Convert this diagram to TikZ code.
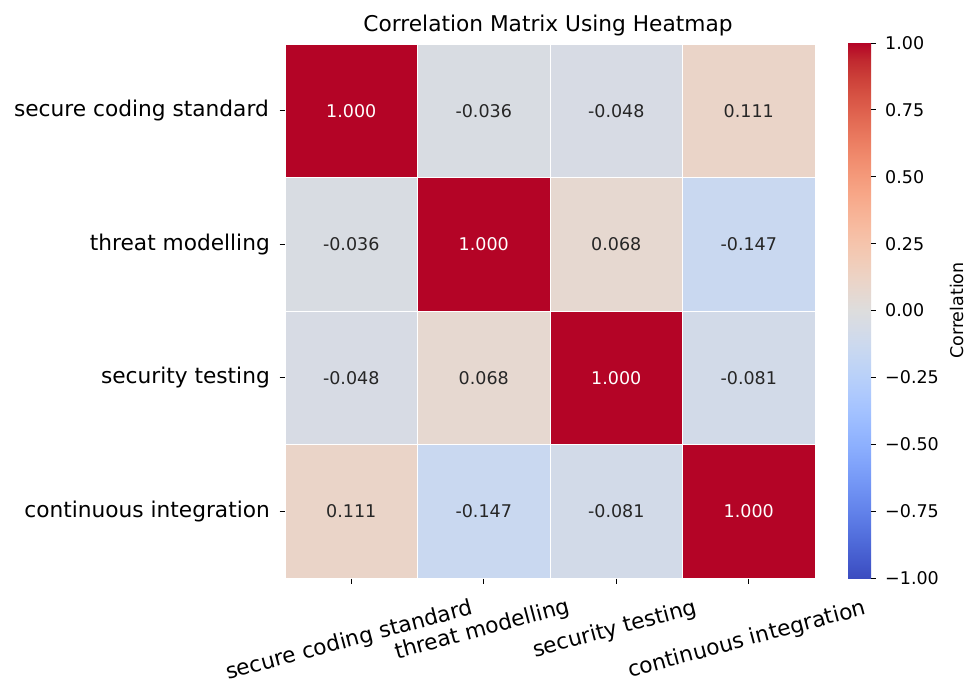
\documentclass[tikz,border=0pt]{standalone}
\usepackage{fontspec}
\setmainfont{DejaVu Sans}
\definecolor{cw0}{RGB}{59,76,192}
\definecolor{cw1}{RGB}{68,90,204}
\definecolor{cw2}{RGB}{77,104,215}
\definecolor{cw3}{RGB}{87,117,225}
\definecolor{cw4}{RGB}{98,130,234}
\definecolor{cw5}{RGB}{108,142,241}
\definecolor{cw6}{RGB}{119,154,247}
\definecolor{cw7}{RGB}{130,165,251}
\definecolor{cw8}{RGB}{141,176,254}
\definecolor{cw9}{RGB}{152,185,255}
\definecolor{cw10}{RGB}{163,194,255}
\definecolor{cw11}{RGB}{174,201,253}
\definecolor{cw12}{RGB}{184,208,249}
\definecolor{cw13}{RGB}{194,213,244}
\definecolor{cw14}{RGB}{204,217,238}
\definecolor{cw15}{RGB}{213,219,230}
\definecolor{cw16}{RGB}{221,221,221}
\definecolor{cw17}{RGB}{229,216,209}
\definecolor{cw18}{RGB}{236,211,197}
\definecolor{cw19}{RGB}{241,204,184}
\definecolor{cw20}{RGB}{245,196,172}
\definecolor{cw21}{RGB}{247,187,160}
\definecolor{cw22}{RGB}{247,177,148}
\definecolor{cw23}{RGB}{247,166,135}
\definecolor{cw24}{RGB}{244,154,123}
\definecolor{cw25}{RGB}{241,141,111}
\definecolor{cw26}{RGB}{236,127,99}
\definecolor{cw27}{RGB}{229,112,88}
\definecolor{cw28}{RGB}{222,96,77}
\definecolor{cw29}{RGB}{213,80,66}
\definecolor{cw30}{RGB}{203,62,56}
\definecolor{cw31}{RGB}{192,40,47}
\definecolor{cw32}{RGB}{180,4,38}
\definecolor{vone}{RGB}{180,4,38}
\definecolor{vA}{RGB}{216,220,226}   % -0.036
\definecolor{vB}{RGB}{215,219,228}   % -0.048
\definecolor{vC}{RGB}{234,212,200}   % 0.111
\definecolor{vD}{RGB}{201,216,240}   % -0.147
\definecolor{vE}{RGB}{230,216,208}   % 0.068
\definecolor{vF}{RGB}{210,218,232}   % -0.081
\definecolor{txtdark}{RGB}{38,38,38}
\pgfdeclareverticalshading{coolwarm}{100bp}{color(0bp)=(cw0); color(25bp)=(cw0);
 color(26.5625bp)=(cw1); color(28.125bp)=(cw2); color(29.6875bp)=(cw3); color(31.25bp)=(cw4);
 color(32.8125bp)=(cw5); color(34.375bp)=(cw6); color(35.9375bp)=(cw7); color(37.5bp)=(cw8);
 color(39.0625bp)=(cw9); color(40.625bp)=(cw10); color(42.1875bp)=(cw11); color(43.75bp)=(cw12);
 color(45.3125bp)=(cw13); color(46.875bp)=(cw14); color(48.4375bp)=(cw15); color(50bp)=(cw16);
 color(51.5625bp)=(cw17); color(53.125bp)=(cw18); color(54.6875bp)=(cw19); color(56.25bp)=(cw20);
 color(57.8125bp)=(cw21); color(59.375bp)=(cw22); color(60.9375bp)=(cw23); color(62.5bp)=(cw24);
 color(64.0625bp)=(cw25); color(65.625bp)=(cw26); color(67.1875bp)=(cw27); color(68.75bp)=(cw28);
 color(70.3125bp)=(cw29); color(71.875bp)=(cw30); color(73.4375bp)=(cw31); color(75bp)=(cw32);
 color(100bp)=(cw32)}
\tikzset{
  cell/.style={rectangle, minimum width=132.5pt, minimum height=133.5pt, inner sep=0pt,
    draw=white, line width=1pt, font=\fontsize{17.5}{20}\selectfont, text=txtdark},
  hot/.style={cell, fill=vone, text=white},
  ylab/.style={anchor=east, inner sep=0pt, font=\fontsize{21.7}{25}\selectfont},
  xlab/.style={inner sep=0pt, rotate=15, font=\fontsize{21.7}{25}\selectfont},
  cblab/.style={anchor=west, inner sep=0pt, font=\fontsize{17.5}{20}\selectfont},
  tickline/.style={line width=0.9pt, black}
}
\begin{document}
\begin{tikzpicture}[x=1pt, y=-1pt]
\useasboundingbox[fill=white] (0,0) rectangle (965,686);
% title
\node[inner sep=0pt, font=\fontsize{21.7}{25}\selectfont] (title) at (548,26) {Correlation Matrix Using Heatmap};
% cells row 1
\node[hot] (c11) at (351.25,110.75) {1.000};
\node[cell, fill=vA] (c12) at (483.75,110.75) {-0.036};
\node[cell, fill=vB] (c13) at (616.25,110.75) {-0.048};
\node[cell, fill=vC] (c14) at (748.75,110.75) {0.111};
% row 2
\node[cell, fill=vA] (c21) at (351.25,244.25) {-0.036};
\node[hot] (c22) at (483.75,244.25) {1.000};
\node[cell, fill=vE] (c23) at (616.25,244.25) {0.068};
\node[cell, fill=vD] (c24) at (748.75,244.25) {-0.147};
% row 3
\node[cell, fill=vB] (c31) at (351.25,377.75) {-0.048};
\node[cell, fill=vE] (c32) at (483.75,377.75) {0.068};
\node[hot] (c33) at (616.25,377.75) {1.000};
\node[cell, fill=vF] (c34) at (748.75,377.75) {-0.081};
% row 4
\node[cell, fill=vC] (c41) at (351.25,511.25) {0.111};
\node[cell, fill=vD] (c42) at (483.75,511.25) {-0.147};
\node[cell, fill=vF] (c43) at (616.25,511.25) {-0.081};
\node[hot] (c44) at (748.75,511.25) {1.000};
% y ticks and labels
\foreach \r/\yy in {1/110.75,2/244.25,3/377.75,4/511.25}{
  \coordinate (yt\r) at (279.5,\yy);
  \draw[tickline] (yt\r) -- (c\r1.west |- yt\r);
}
\node[ylab] (yl1) at (269,110.75) {secure coding standard};
\node[ylab] (yl2) at (270,244.25) {threat modelling};
\node[ylab] (yl3) at (270,377.75) {security testing};
\node[ylab] (yl4) at (270,511.25) {continuous integration};
% x ticks and labels
\foreach \c/\xx in {1/351.25,2/483.75,3/616.25,4/748.75}{
  \coordinate (xt\c) at (\xx,583.5);
  \draw[tickline] (c4\c.south) -- (xt\c);
}
\node[xlab] (xl1) at (349.5,641) {secure coding standard};
\node[xlab] (xl2) at (482.5,630) {threat modelling};
\node[xlab] (xl3) at (615,629.5) {security testing};
\node[xlab] (xl4) at (747,640) {continuous integration};
% colorbar
\node[shade, shading=coolwarm, minimum width=23pt, minimum height=535pt, inner sep=0pt] (cbar) at (859.5,310.5) {};
\foreach \i/\v in {0/1.00,1/0.75,2/0.50,3/0.25,4/0.00,5/−0.25,6/−0.50,7/−0.75,8/−1.00}{
  \coordinate (cbt\i) at (876,43+66.875*\i);
  \draw[tickline] (cbar.east |- cbt\i) -- (cbt\i);
  \node[cblab] (cbl\i) at (885,43+66.875*\i) {\v};
}
\node[inner sep=0pt, rotate=90, font=\fontsize{17.5}{20}\selectfont] (cblabel) at (957,310.5) {Correlation};
\end{tikzpicture}
\end{document}
